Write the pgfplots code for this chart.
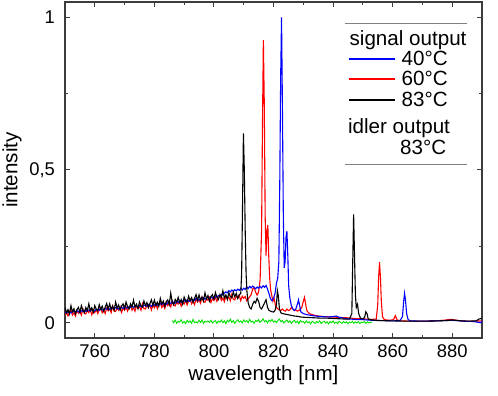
\documentclass[border=0pt]{standalone}
\usepackage{pgfplots}
\pgfplotsset{compat=1.18}
\usepackage{fontspec}
\setmainfont{Liberation Sans}
\definecolor{idler}{RGB}{0,225,0}
\definecolor{frame}{RGB}{60,60,60}
\begin{document}
\begin{tikzpicture}
\begin{axis}[
    scale only axis,
    width=208.5pt, height=168pt,
    xmin=750, xmax=890,
    ymin=-0.05, ymax=1.05,
    xtick={760,780,...,880},
    minor x tick num=1,
    ytick={0,0.5,1},
    yticklabels={0,{0,5},1},
    minor y tick num=1,
    tick align=inside,
    major tick length=2.6pt,
    minor tick length=1.5pt,
    axis line style={frame, line width=0.6pt},
    every tick/.style={frame, line width=0.5pt},
    /pgf/number format/assume math mode=true,
    tick label style={font=\fontsize{9.2}{11}\selectfont},
    yticklabel style={xshift=-1.5pt},
    every axis x label/.style={at={(axis description cs:0.5,0)}, anchor=base, yshift=-21.5pt, xshift=-5pt},
    every axis y label/.style={at={(axis description cs:0,0.5)}, xshift=-26.5pt, rotate=90, anchor=center},
    label style={font=\fontsize{10.3}{12}\selectfont},
    xlabel={wavelength [nm]},
    ylabel={intensity},
    clip=true,
    legend image code/.code={\draw[#1, line width=1pt] (0pt,3.3pt) -- (23pt,3.3pt);},
    legend style={at={(axis cs:844.9,0.959)}, anchor=north west, draw=none, fill=none,
        inner sep=0pt, outer sep=0pt, row sep=0pt, column sep=3pt,
        font=\fontsize{10.3}{12}\selectfont,
        nodes={inner sep=0pt, outer sep=0pt, anchor=base west, text height=7.7pt, text depth=2.5pt}},
    legend cell align=left,
]
% idler output, 83 C
\addplot[idler, line width=0.45pt, forget plot] coordinates {
(786,.007)(786.5,.000)(787,.009)(787.5,-.002)(788,.005)(788.5,.002)(789,.010)(789.5,-.001)(790,.004)(790.5,-.003)
(791,.008)(791.5,.001)(792,.006)(792.5,-.002)(793,.011)(793.5,.000)(794,.003)(794.5,-.001)(795,.008)(795.5,.001)
(796,.009)(796.5,-.002)(797,.005)(797.5,.002)(798,.006)(798.5,.001)(799,.008)(799.5,-.001)(800,.004)(800.5,.007)
(801,-.002)(801.5,.005)(802,.002)(802.5,.009)(803,.000)(803.5,.006)(804,-.003)(804.5,.008)(805,.003)(805.5,.012)
(806,.001)(806.5,.007)(807,-.002)(807.5,.005)(808,.010)(808.5,.002)(809,.006)(809.5,-.001)(810,.009)(810.5,.003)
(811,.007)(811.5,.000)(812,.011)(812.5,.002)(813,.005)(813.5,-.002)(814,.008)(814.5,.004)(815,.010)(815.5,.001)
(816,.006)(816.5,.013)(817,.003)(817.5,.007)(818,-.001)(818.5,.009)(819,.004)(819.5,.011)(820,.002)(820.5,.006)
(821,.000)(821.5,.008)(822,.012)(822.5,.003)(823,.007)(823.5,-.001)(824,.005)(824.5,.009)(825,.001)(825.5,.006)
(826,-.002)(826.5,.004)(827,.008)(827.5,.000)(828,.005)(828.5,-.003)(829,.007)(829.5,.002)(830,.004)(830.5,-.002)
(831,.006)(831.5,.000)(832,.003)(832.5,-.004)(833,.005)(833.5,.001)(834,-.002)(834.5,.004)(835,.000)(835.5,.006)
(836,-.003)(836.5,.002)(837,.005)(837.5,-.001)(838,.003)(838.5,-.004)(839,.004)(839.5,.000)(840,.006)(840.5,-.002)
(841,.002)(841.5,-.003)(842,.005)(842.5,.001)(843,-.002)(843.5,.004)(844,-.001)(844.5,.003)(845,-.003)(845.5,.002)
(846,.000)(846.5,.005)(847,-.002)(847.5,.003)(848,-.001)(848.5,.004)(849,-.003)(849.5,.002)(850,.000)(850.5,.004)
(851,-.002)(851.5,.003)(852,-.001)(852.5,.002)(853,.000)
};
% signal output, 60 C
\addplot[red, line width=0.55pt, forget plot] coordinates {
(750,.025)(750.5,.035)(751,.022)(751.5,.034)(752,.041)(752.5,.025)(753,.033)(753.5,.022)(754,.040)(754.5,.031)
(755,.037)(755.5,.025)(756,.046)(756.5,.030)(757,.029)(757.5,.041)(758,.033)(758.5,.044)(759,.026)(759.5,.041)
(760,.033)(760.5,.043)(761,.030)(761.5,.042)(762,.049)(762.5,.033)(763,.041)(763.5,.030)(764,.048)(764.5,.039)
(765,.045)(765.5,.033)(766,.054)(766.5,.038)(767,.037)(767.5,.049)(768,.041)(768.5,.052)(769,.034)(769.5,.049)
(770,.041)(770.5,.051)(771,.038)(771.5,.050)(772,.057)(772.5,.041)(773,.049)(773.5,.038)(774,.056)(774.5,.047)
(775,.053)(775.5,.041)(776,.062)(776.5,.046)(777,.045)(777.5,.057)(778,.049)(778.5,.060)(779,.042)(779.5,.057)
(780,.049)(780.5,.060)(781,.046)(781.5,.059)(782,.065)(782.5,.050)(783,.059)(783.5,.047)(784,.066)(784.5,.056)
(785,.063)(785.5,.052)(786,.072)(786.5,.057)(787,.055)(787.5,.068)(788,.061)(788.5,.071)(789,.054)(789.5,.068)
(790,.061)(790.5,.072)(791,.058)(791.5,.071)(792,.077)(792.5,.062)(793,.071)(793.5,.059)(794,.078)(794.5,.068)
(795,.075)(795.5,.064)(796,.084)(796.5,.069)(797,.067)(797.5,.080)(798,.073)(798.5,.083)(799,.066)(799.5,.080)
(800,.073)(800.5,.083)(801,.070)(801.5,.082)(802,.088)(802.5,.073)(803,.081)(803.5,.069)(804,.087)(804.5,.078)
(805,.084)(805.5,.072)(806,.093)(806.5,.077)(807,.075)(807.5,.088)(808,.080)(808.5,.090)(809,.072)(809.5,.087)
(810,.080)(810.5,.086)(811,.072)(811.5,.078)(812,.085)(812.5,.092)(813,.110)(813.5,.115)(814,.100)(814.5,.090)
(815,.100)(815.5,.140)(816,.300)(816.3,.650)(816.6,.925)(816.9,.720)(817.2,.350)(817.5,.220)(817.8,.300)(818.1,.320)
(818.4,.220)(818.7,.150)(819,.110)(819.4,.090)(819.8,.070)(820.2,.080)(820.6,.060)(821,.050)(821.5,.045)(822,.042)
(822.5,.040)(823,.045)(823.5,.040)(824,.038)(824.5,.045)(825,.040)(825.5,.042)(826,.050)(826.5,.045)(827,.040)
(827.5,.042)(828,.038)(828.5,.040)(829,.045)(829.5,.050)(830,.070)(830.4,.083)(830.8,.060)(831.2,.040)(831.8,.032)
(832.5,.028)(833.5,.025)(835,.022)(837,.020)(839,.019)(841,.018)(843,.017)(845,.016)(847,.014)(849,.013)
(851,.012)(853,.011)(854.5,.012)(855,.060)(855.3,.150)(855.6,.198)(855.9,.150)(856.2,.070)(856.6,.020)(857.2,.010)
(859,.008)(860.3,.010)(860.9,.023)(861.5,.009)(863,.006)(866,.005)(870,.005)(874,.006)(877,.008)(879.5,.011)
(881,.009)(883,.006)(886,.005)(890,.006)
};
% signal output, 40 C
\addplot[blue, line width=0.55pt, forget plot] coordinates {
(750,.035)(750.5,.031)(751,.037)(751.5,.033)(752,.032)(752.5,.037)(753,.037)(753.5,.034)(754,.040)(754.5,.036)
(755,.034)(755.5,.040)(756,.037)(756.5,.041)(757,.037)(757.5,.040)(758,.042)(758.5,.038)(759,.044)(759.5,.040)
(760,.038)(760.5,.044)(761,.043)(761.5,.041)(762,.047)(762.5,.042)(763,.041)(763.5,.046)(764,.044)(764.5,.048)
(765,.043)(765.5,.047)(766,.048)(766.5,.045)(767,.050)(767.5,.047)(768,.045)(768.5,.050)(769,.050)(769.5,.047)
(770,.054)(770.5,.049)(771,.048)(771.5,.053)(772,.050)(772.5,.055)(773,.050)(773.5,.054)(774,.055)(774.5,.051)
(775,.057)(775.5,.053)(776,.052)(776.5,.057)(777,.057)(777.5,.054)(778,.060)(778.5,.056)(779,.054)(779.5,.060)
(780,.057)(780.5,.062)(781,.057)(781.5,.061)(782,.063)(782.5,.059)(783,.065)(783.5,.061)(784,.060)(784.5,.066)
(785,.065)(785.5,.063)(786,.070)(786.5,.065)(787,.064)(787.5,.069)(788,.067)(788.5,.072)(789,.067)(789.5,.071)
(790,.073)(790.5,.069)(791,.075)(791.5,.071)(792,.070)(792.5,.076)(793,.075)(793.5,.073)(794,.080)(794.5,.075)
(795,.074)(795.5,.079)(796,.077)(796.5,.082)(797,.077)(797.5,.081)(798,.083)(798.5,.079)(799,.085)(799.5,.081)
(800,.080)(800.5,.086)(801,.084)(801.5,.089)(802,.088)(802.5,.093)(803,.091)(803.5,.097)(804,.101)(804.5,.098)
(805,.105)(805.5,.101)(806,.107)(806.5,.103)(807,.108)(807.5,.104)(808,.110)(808.5,.106)(809,.112)(809.5,.107)
(810,.113)(810.5,.109)(811,.117)(811.5,.112)(812,.119)(812.5,.114)(813,.120)(813.5,.116)(814,.111)(814.5,.117)
(815,.113)(815.5,.119)(816,.114)(816.5,.121)(817,.116)(817.5,.122)(818,.110)(818.5,.095)(819,.078)(819.5,.072)
(820,.080)(820.5,.095)(821,.130)(821.4,.145)(821.8,.200)(822.1,.450)(822.4,.800)(822.7,1.000)(823,.700)(823.3,.350)
(823.6,.180)(823.9,.200)(824.2,.280)(824.5,.300)(824.8,.220)(825.1,.120)(825.5,.080)(826,.055)(826.5,.045)(827,.040)
(827.5,.045)(828,.060)(828.4,.075)(828.8,.055)(829.2,.035)(830,.030)(831,.027)(832,.025)(834,.022)(836,.020)
(838,.019)(840,.020)(841,.022)(842,.018)(844,.014)(846,.012)(848,.010)(850,.010)(853,.008)(856,.007)
(860,.006)(862.5,.007)(863.3,.020)(863.7,.070)(864,.096)(864.3,.075)(864.7,.030)(865.2,.010)(866,.006)(870,.005)
(875,.006)(880,.008)(884,.005)(887,.004)(888.5,.002)(889.5,.000)(890,.006)
};
% signal output, 83 C
\addplot[black, line width=0.55pt, forget plot] coordinates {
(750,.050)(750.5,.032)(751,.043)(751.5,.029)(752,.056)(752.5,.036)(753,.046)(753.5,.029)(754,.043)(754.5,.050)
(755,.034)(755.5,.056)(756,.041)(756.5,.033)(757,.050)(757.5,.040)(758,.062)(758.5,.039)(759,.049)(759.5,.034)
(760,.056)(760.5,.044)(761,.039)(761.5,.059)(762,.044)(762.5,.054)(763,.038)(763.5,.051)(764,.063)(764.5,.044)
(765,.062)(765.5,.044)(766,.055)(766.5,.041)(767,.068)(767.5,.048)(768,.058)(768.5,.041)(769,.055)(769.5,.062)
(770,.046)(770.5,.068)(771,.053)(771.5,.045)(772,.062)(772.5,.052)(773,.074)(773.5,.051)(774,.061)(774.5,.046)
(775,.068)(775.5,.056)(776,.051)(776.5,.071)(777,.056)(777.5,.066)(778,.050)(778.5,.063)(779,.075)(779.5,.056)
(780,.074)(780.5,.057)(781,.067)(781.5,.054)(782,.080)(782.5,.061)(783,.071)(783.5,.054)(784,.069)(784.5,.075)
(785,.060)(785.5,.097)(786,.067)(786.5,.059)(787,.076)(787.5,.067)(788,.083)(788.5,.066)(789,.076)(789.5,.061)
(790,.084)(790.5,.072)(791,.067)(791.5,.087)(792,.072)(792.5,.082)(793,.067)(793.5,.080)(794,.092)(794.5,.073)
(795,.091)(795.5,.074)(796,.084)(796.5,.071)(797,.098)(797.5,.078)(798,.089)(798.5,.071)(799,.086)(799.5,.092)
(800,.077)(800.5,.099)(801,.084)(801.5,.076)(802,.092)(802.5,.083)(803,.105)(803.5,.081)(804,.091)(804.5,.076)
(805,.098)(805.5,.086)(806,.081)(806.5,.101)(807,.085)(807.5,.096)(808,.080)(808.5,.092)(809,.095)(809.3,.160)
(809.6,.380)(809.9,.620)(810.2,.500)(810.5,.300)(810.8,.160)(811.1,.100)(811.5,.065)(812,.050)(812.5,.045)(813,.060)
(813.5,.070)(814,.065)(814.5,.080)(815,.070)(815.5,.050)(816,.045)(816.5,.055)(817,.065)(817.5,.075)(818,.050)
(818.5,.040)(819,.038)(819.5,.036)(820,.035)(820.5,.040)(821,.060)(821.3,.105)(821.6,.090)(822,.045)(822.5,.032)
(823,.030)(824,.028)(825,.026)(826,.024)(827,.022)(828,.021)(829,.019)(830,.018)(832,.017)(834,.016)
(836,.015)(838,.015)(840,.014)(842,.013)(844,.012)(845.5,.012)(846.3,.030)(846.6,.200)(846.9,.355)(847.2,.220)
(847.5,.090)(847.8,.050)(848.2,.060)(848.6,.030)(849.2,.015)(850,.012)(850.6,.018)(851,.036)(851.4,.030)(851.8,.012)
(853,.009)(856,.007)(860,.006)(865,.005)(870,.005)(875,.006)(878,.007)(880,.009)(882,.007)(885,.005)
(888,.006)(889,.012)(890,.015)
};
% legend: signal output block
\addlegendimage{empty legend}
\addlegendentry{\hspace{-26pt}signal output}
\addlegendimage{blue}
\addlegendentry{40°C}
\addlegendimage{red}
\addlegendentry{60°C}
\addlegendimage{black}
\addlegendentry{83°C}
% idler output block (no line sample in the original)
\node[anchor=base west, inner sep=0pt, font=\fontsize{10.3}{12}\selectfont] at (axis cs:844.9,0.620) {idler output};
\node[anchor=base west, inner sep=0pt, font=\fontsize{10.3}{12}\selectfont] at (axis cs:862.4,0.551) {83°C};
% legend frame lines
\draw[gray, line width=0.5pt] (axis cs:843.9,0.979) -- (axis cs:884.8,0.979);
\draw[gray, line width=0.5pt] (axis cs:843.9,0.518) -- (axis cs:884.8,0.518);
\end{axis}
\pgfresetboundingbox
\path[use as bounding box] ([shift={(-32.5pt,-29pt)}]current axis.south west) rectangle ([shift={(8pt,1pt)}]current axis.north east);
\end{tikzpicture}
\end{document}
